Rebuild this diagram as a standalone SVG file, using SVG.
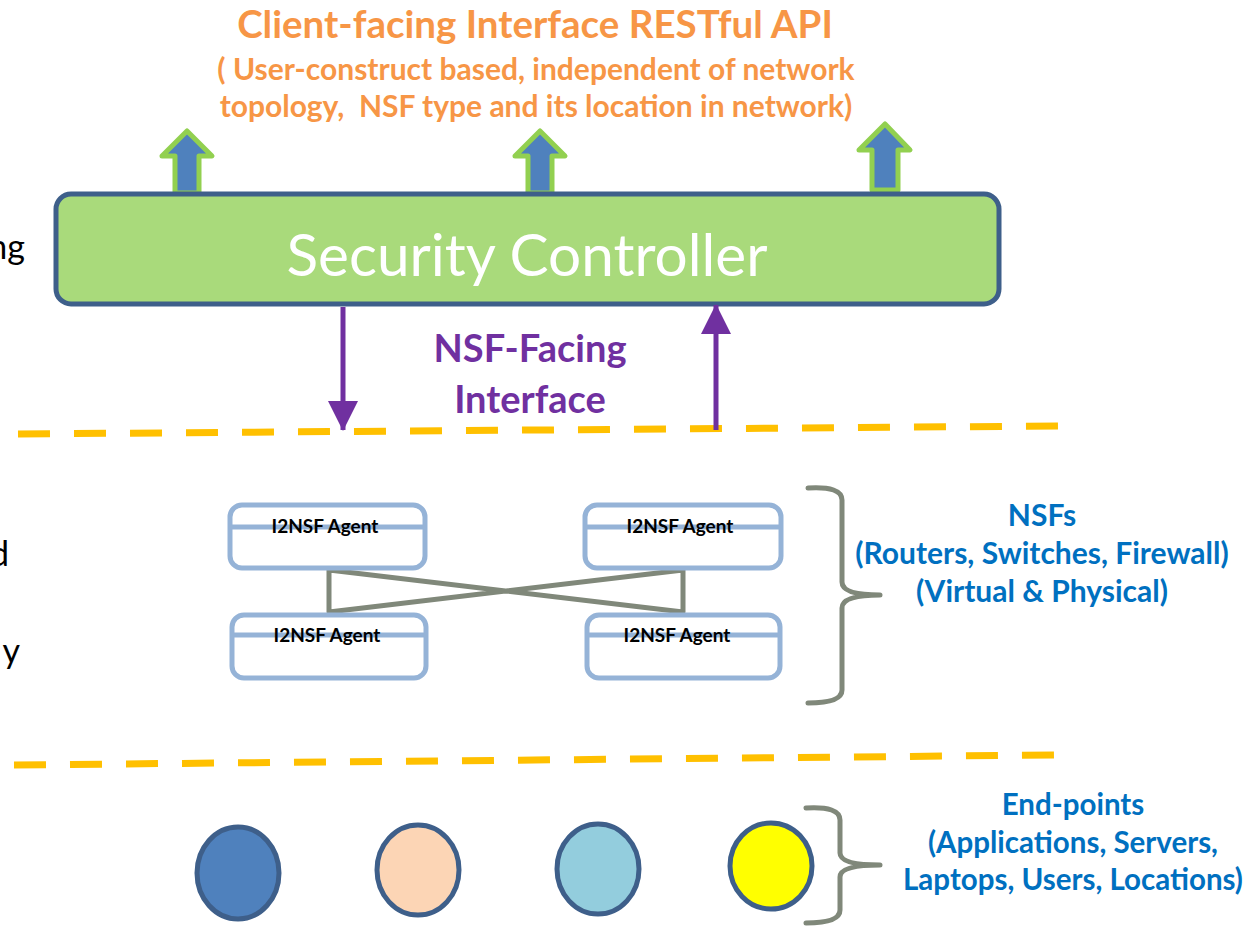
<svg xmlns="http://www.w3.org/2000/svg" width="1250" height="927" viewBox="0 0 1250 927">
  <style>
    .lato { font-family: Lato, "Liberation Sans", sans-serif; }
    .title { fill: #F79646; font-weight: bold; text-anchor: middle; }
    .nsfi { fill: #7030A0; font-weight: bold; font-size: 38px; text-anchor: middle; }
    .blue { fill: #0070C0; font-weight: bold; text-anchor: middle; }
    .side { fill: #000000; font-size: 34px; text-anchor: end; }
    .agent rect { fill: #FFFFFF; stroke: #95B3D7; stroke-width: 5; }
    .agent line { stroke: #95B3D7; stroke-width: 5; }
    .agent text { font-size: 19px; font-weight: bold; fill: #000000; text-anchor: middle; }
    .dash { stroke: #FFC000; stroke-width: 7; stroke-dasharray: 32 24; fill: none; }
    .brace { fill: none; stroke: #80887A; stroke-width: 5; stroke-linecap: round; stroke-linejoin: round; }
    .uparrow { fill: #4F81BD; stroke: #92D050; stroke-width: 5; stroke-linejoin: round; }
    .ep { stroke: #3E5F8A; stroke-width: 5; }
    .purple { stroke: #7030A0; stroke-width: 5; fill: none; }
  </style>
  <defs>
    <marker id="ph" viewBox="0 0 30 30" refX="29" refY="15" markerUnits="userSpaceOnUse" markerWidth="30" markerHeight="30" orient="auto">
      <path d="M0,0 L30,15 L0,30 Z" fill="#7030A0"/>
    </marker>
  </defs>

  <!-- cut-off labels at the left edge -->
  <g class="lato">
    <text class="side" x="25" y="259">ng</text>
    <text class="side" x="9" y="566">d</text>
    <text class="side" x="20" y="663">y</text>
  </g>

  <!-- client-facing interface heading -->
  <g id="client-facing" class="lato">
    <text class="title" x="535" y="38" font-size="38.5">Client-facing Interface RESTful API</text>
    <text class="title" x="536" y="80" font-size="30">( User-construct based, independent of network</text>
    <text class="title" x="536" y="117" font-size="30" xml:space="preserve">topology,  NSF type and its location in network)</text>
  </g>

  <!-- block arrows on top of the controller -->
  <g id="api-arrows">
    <path class="uparrow" d="M187,131 L212,156 L199,156 L199,193 L175,193 L175,156 L162,156 Z"/>
    <path class="uparrow" d="M540,131 L565,156 L552,156 L552,193 L528,193 L528,156 L515,156 Z"/>
    <path class="uparrow" d="M885,124 L910,150 L898,150 L898,190 L872,190 L872,150 L859,150 Z"/>
  </g>

  <!-- security controller -->
  <g id="security-controller">
    <rect x="56" y="194" width="943" height="110" rx="15" fill="#A9DA7B" stroke="#3E5F8A" stroke-width="5"/>
    <text class="lato" x="527" y="276" font-size="58.5" fill="#FFFFFF" text-anchor="middle">Security Controller</text>
  </g>

  <!-- layer separators -->
  <g id="separators">
    <line class="dash" x1="18" y1="434" x2="1058" y2="426"/>
    <line class="dash" x1="14" y1="765" x2="1056" y2="755"/>
  </g>

  <!-- NSF-facing interface -->
  <g id="connectors">
    <line class="purple" x1="343" y1="307" x2="343" y2="430" marker-end="url(#ph)"/>
    <line class="purple" x1="716" y1="430" x2="716" y2="305" marker-end="url(#ph)"/>
    <polygon points="329,570 683,612 683,570 329,612" fill="none" stroke="#80887A" stroke-width="5" stroke-linejoin="round"/>
  </g>
  <g id="nsf-facing-label" class="lato">
    <text class="nsfi" x="530" y="362">NSF-Facing</text>
    <text class="nsfi" x="530" y="413">Interface</text>
  </g>

  <!-- I2NSF agents -->
  <g id="agent-1" class="agent lato">
    <rect x="230" y="505" width="195" height="63" rx="12"/>
    <line x1="230" y1="527" x2="425" y2="527"/>
    <text x="325" y="533">I2NSF Agent</text>
  </g>
  <g id="agent-2" class="agent lato">
    <rect x="585" y="505" width="196" height="63" rx="12"/>
    <line x1="585" y1="527" x2="781" y2="527"/>
    <text x="680" y="533">I2NSF Agent</text>
  </g>
  <g id="agent-3" class="agent lato">
    <rect x="232" y="615" width="194" height="63" rx="12"/>
    <line x1="232" y1="635" x2="426" y2="635"/>
    <text x="327" y="642">I2NSF Agent</text>
  </g>
  <g id="agent-4" class="agent lato">
    <rect x="587" y="615" width="193" height="63" rx="12"/>
    <line x1="587" y1="635" x2="780" y2="635"/>
    <text x="677" y="642">I2NSF Agent</text>
  </g>

  <!-- NSF group -->
  <g id="nsfs">
    <path class="brace" d="M808,488 Q842,486 842,500 L842,582 Q842,595 880,595 Q842,595 842,608 L842,690 Q842,703 808,703"/>
    <g class="lato">
      <text class="blue" x="1042" y="526" font-size="30">NSFs</text>
      <text class="blue" x="1042" y="564" font-size="30">(Routers, Switches, Firewall)</text>
      <text class="blue" x="1042" y="602" font-size="30">(Virtual &amp; Physical)</text>
    </g>
  </g>

  <!-- end-points -->
  <g id="endpoint-1"><ellipse class="ep" cx="238" cy="873" rx="41" ry="46" fill="#4F81BD"/></g>
  <g id="endpoint-2"><ellipse class="ep" cx="418" cy="870" rx="41" ry="45" fill="#FCD5B5"/></g>
  <g id="endpoint-3"><ellipse class="ep" cx="598" cy="869" rx="41" ry="45" fill="#93CDDD"/></g>
  <g id="endpoint-4"><ellipse class="ep" cx="771" cy="866" rx="41" ry="43" fill="#FFFF00"/></g>

  <g id="end-points">
    <path class="brace" d="M806,808 Q840,806 840,820 L840,853 Q840,865 880,865 Q840,865 840,877 L840,910 Q840,923 806,923"/>
    <g class="lato">
      <text class="blue" x="1073" y="815" font-size="29.5">End-points</text>
      <text class="blue" x="1073" y="853" font-size="29.5">(Applications, Servers,</text>
      <text class="blue" x="1073" y="890" font-size="29.5">Laptops, Users, Locations)</text>
    </g>
  </g>
</svg>
